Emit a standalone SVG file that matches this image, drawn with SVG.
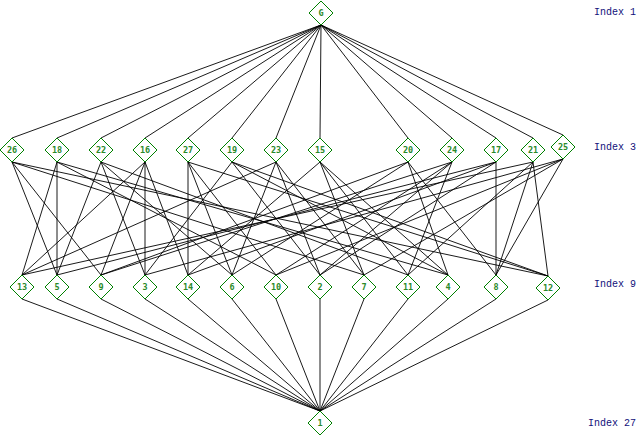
<svg xmlns="http://www.w3.org/2000/svg" width="637" height="436" viewBox="0 0 637 436">
<defs>
<style>
.n polygon{fill:#ffffff;stroke:#008000;stroke-width:1}
.n text{fill:#2a8a2a;font-family:"DejaVu Sans Mono",monospace;font-size:8.5px;font-weight:bold;text-anchor:middle}
.e line{stroke:#000000;stroke-width:0.9}
.ix{fill:#10107a;font-family:"Liberation Mono",monospace;font-size:10px;text-anchor:end}
</style>
</defs>
<rect width="637" height="436" fill="#ffffff"/>
<g class="e" id="connectors">
<line x1="321" y1="25" x2="12" y2="138"/>
<line x1="321" y1="25" x2="57" y2="138"/>
<line x1="321" y1="25" x2="101" y2="138"/>
<line x1="321" y1="25" x2="145" y2="138"/>
<line x1="321" y1="25" x2="188" y2="138"/>
<line x1="321" y1="25" x2="232" y2="138"/>
<line x1="321" y1="25" x2="276" y2="138"/>
<line x1="321" y1="25" x2="320" y2="138"/>
<line x1="321" y1="25" x2="408" y2="138"/>
<line x1="321" y1="25" x2="452" y2="138"/>
<line x1="321" y1="25" x2="496" y2="138"/>
<line x1="321" y1="25" x2="533" y2="138"/>
<line x1="321" y1="25" x2="563" y2="135"/>
<line x1="22" y1="299" x2="320" y2="411"/>
<line x1="57" y1="299" x2="320" y2="411"/>
<line x1="101" y1="299" x2="320" y2="411"/>
<line x1="145" y1="299" x2="320" y2="411"/>
<line x1="188" y1="299" x2="320" y2="411"/>
<line x1="232" y1="299" x2="320" y2="411"/>
<line x1="276" y1="299" x2="320" y2="411"/>
<line x1="320" y1="299" x2="320" y2="411"/>
<line x1="364" y1="299" x2="320" y2="411"/>
<line x1="408" y1="299" x2="320" y2="411"/>
<line x1="448" y1="299" x2="320" y2="411"/>
<line x1="496" y1="299" x2="320" y2="411"/>
<line x1="548" y1="300" x2="320" y2="411"/>
<!-- 26: 5 12 7 9 -->
<line x1="12" y1="162" x2="57" y2="275"/>
<line x1="12" y1="162" x2="548" y2="276"/>
<line x1="12" y1="162" x2="364" y2="275"/>
<line x1="12" y1="162" x2="101" y2="275"/>
<!-- 18: 5 13 10 4 -->
<line x1="57" y1="162" x2="57" y2="275"/>
<line x1="57" y1="162" x2="22" y2="275"/>
<line x1="57" y1="162" x2="276" y2="275"/>
<line x1="57" y1="162" x2="448" y2="275"/>
<!-- 22: 5 11 3 6 -->
<line x1="101" y1="162" x2="57" y2="275"/>
<line x1="101" y1="162" x2="408" y2="275"/>
<line x1="101" y1="162" x2="145" y2="275"/>
<line x1="101" y1="162" x2="232" y2="275"/>
<!-- 16: 13 14 3 9 -->
<line x1="145" y1="162" x2="22" y2="275"/>
<line x1="145" y1="162" x2="188" y2="275"/>
<line x1="145" y1="162" x2="145" y2="275"/>
<line x1="145" y1="162" x2="101" y2="275"/>
<!-- 27: 14 12 10 6 -->
<line x1="188" y1="162" x2="188" y2="275"/>
<line x1="188" y1="162" x2="548" y2="276"/>
<line x1="188" y1="162" x2="276" y2="275"/>
<line x1="188" y1="162" x2="232" y2="275"/>
<!-- 19: 2 12 3 4 -->
<line x1="232" y1="162" x2="320" y2="275"/>
<line x1="232" y1="162" x2="548" y2="276"/>
<line x1="232" y1="162" x2="145" y2="275"/>
<line x1="232" y1="162" x2="448" y2="275"/>
<!-- 23: 2 13 7 6 -->
<line x1="276" y1="162" x2="320" y2="275"/>
<line x1="276" y1="162" x2="22" y2="275"/>
<line x1="276" y1="162" x2="364" y2="275"/>
<line x1="276" y1="162" x2="232" y2="275"/>
<!-- 15: 14 11 7 4 -->
<line x1="320" y1="162" x2="188" y2="275"/>
<line x1="320" y1="162" x2="408" y2="275"/>
<line x1="320" y1="162" x2="364" y2="275"/>
<line x1="320" y1="162" x2="448" y2="275"/>
<!-- 20: 8 4 6 9 -->
<line x1="408" y1="162" x2="496" y2="275"/>
<line x1="408" y1="162" x2="448" y2="275"/>
<line x1="408" y1="162" x2="232" y2="275"/>
<line x1="408" y1="162" x2="101" y2="275"/>
<!-- 24: 2 11 10 9 -->
<line x1="452" y1="162" x2="320" y2="275"/>
<line x1="452" y1="162" x2="408" y2="275"/>
<line x1="452" y1="162" x2="276" y2="275"/>
<line x1="452" y1="162" x2="101" y2="275"/>
<!-- 17: 8 5 14 2 -->
<line x1="496" y1="162" x2="496" y2="275"/>
<line x1="496" y1="162" x2="57" y2="275"/>
<line x1="496" y1="162" x2="188" y2="275"/>
<line x1="496" y1="162" x2="320" y2="275"/>
<!-- 21: 8 12 13 11 -->
<line x1="533" y1="162" x2="496" y2="275"/>
<line x1="533" y1="162" x2="548" y2="276"/>
<line x1="533" y1="162" x2="22" y2="275"/>
<line x1="533" y1="162" x2="408" y2="275"/>
<!-- 25: 8 7 3 10 -->
<line x1="563" y1="159" x2="496" y2="275"/>
<line x1="563" y1="159" x2="364" y2="275"/>
<line x1="563" y1="159" x2="145" y2="275"/>
<line x1="563" y1="159" x2="276" y2="275"/>
</g>
<g id="n_G" class="n"><polygon points="321,1 333,13 321,25 309,13"/><text x="321" y="16">G</text></g>
<g id="n_26" class="n"><polygon points="12,138 24,150 12,162 0,150"/><text x="12" y="153">26</text></g>
<g id="n_18" class="n"><polygon points="57,138 69,150 57,162 45,150"/><text x="57" y="153">18</text></g>
<g id="n_22" class="n"><polygon points="101,138 113,150 101,162 89,150"/><text x="101" y="153">22</text></g>
<g id="n_16" class="n"><polygon points="145,138 157,150 145,162 133,150"/><text x="145" y="153">16</text></g>
<g id="n_27" class="n"><polygon points="188,138 200,150 188,162 176,150"/><text x="188" y="153">27</text></g>
<g id="n_19" class="n"><polygon points="232,138 244,150 232,162 220,150"/><text x="232" y="153">19</text></g>
<g id="n_23" class="n"><polygon points="276,138 288,150 276,162 264,150"/><text x="276" y="153">23</text></g>
<g id="n_15" class="n"><polygon points="320,138 332,150 320,162 308,150"/><text x="320" y="153">15</text></g>
<g id="n_20" class="n"><polygon points="408,138 420,150 408,162 396,150"/><text x="408" y="153">20</text></g>
<g id="n_24" class="n"><polygon points="452,138 464,150 452,162 440,150"/><text x="452" y="153">24</text></g>
<g id="n_17" class="n"><polygon points="496,138 508,150 496,162 484,150"/><text x="496" y="153">17</text></g>
<g id="n_21" class="n"><polygon points="533,138 545,150 533,162 521,150"/><text x="533" y="153">21</text></g>
<g id="n_25" class="n"><polygon points="563,135 575,147 563,159 551,147"/><text x="563" y="150">25</text></g>
<g id="n_13" class="n"><polygon points="22,275 34,287 22,299 10,287"/><text x="22" y="290">13</text></g>
<g id="n_5" class="n"><polygon points="57,275 69,287 57,299 45,287"/><text x="57" y="290">5</text></g>
<g id="n_9" class="n"><polygon points="101,275 113,287 101,299 89,287"/><text x="101" y="290">9</text></g>
<g id="n_3" class="n"><polygon points="145,275 157,287 145,299 133,287"/><text x="145" y="290">3</text></g>
<g id="n_14" class="n"><polygon points="188,275 200,287 188,299 176,287"/><text x="188" y="290">14</text></g>
<g id="n_6" class="n"><polygon points="232,275 244,287 232,299 220,287"/><text x="232" y="290">6</text></g>
<g id="n_10" class="n"><polygon points="276,275 288,287 276,299 264,287"/><text x="276" y="290">10</text></g>
<g id="n_2" class="n"><polygon points="320,275 332,287 320,299 308,287"/><text x="320" y="290">2</text></g>
<g id="n_7" class="n"><polygon points="364,275 376,287 364,299 352,287"/><text x="364" y="290">7</text></g>
<g id="n_11" class="n"><polygon points="408,275 420,287 408,299 396,287"/><text x="408" y="290">11</text></g>
<g id="n_4" class="n"><polygon points="448,275 460,287 448,299 436,287"/><text x="448" y="290">4</text></g>
<g id="n_8" class="n"><polygon points="496,275 508,287 496,299 484,287"/><text x="496" y="290">8</text></g>
<g id="n_12" class="n"><polygon points="548,276 560,288 548,300 536,288"/><text x="548" y="291">12</text></g>
<g id="n_1" class="n"><polygon points="320,411 332,423 320,435 308,423"/><text x="320" y="426">1</text></g>
<text class="ix" x="636" y="15">Index 1</text>
<text class="ix" x="636" y="150">Index 3</text>
<text class="ix" x="636" y="287">Index 9</text>
<text class="ix" x="636" y="426">Index 27</text>
</svg>
